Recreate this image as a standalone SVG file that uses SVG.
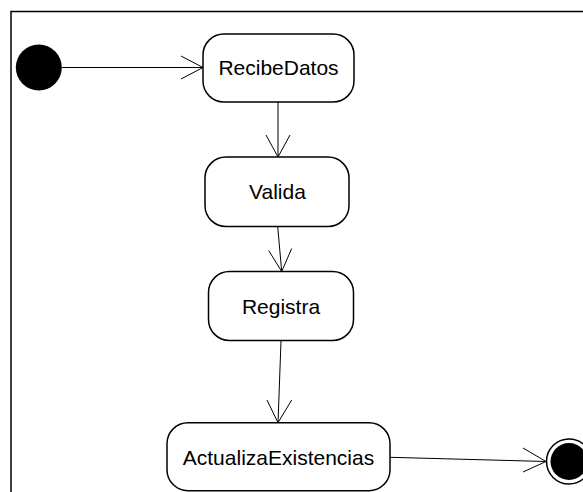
<svg xmlns="http://www.w3.org/2000/svg" width="583" height="492" viewBox="0 0 583 492">
<style>
.frame{fill:none;stroke:#000;stroke-width:1.5}
.node rect{fill:#fff;stroke:#000;stroke-width:1.5}
.node text{font-family:"Liberation Sans",Arial,sans-serif;font-size:21px;fill:#000;text-anchor:middle}
.conn line{stroke:#000;stroke-width:1;fill:none}
.conn polyline{stroke:#000;stroke-width:1;fill:none}
</style>
<rect width="583" height="492" fill="#fff"/>
<path class="frame" d="M11,492 V11.5 H583"/>
<g id="connectors" class="conn">
<line x1="62" y1="67.5" x2="203" y2="67.5"/>
<polyline points="181,56 203,67.5 181,79"/>
<line x1="278" y1="102" x2="278" y2="157"/>
<polyline points="266,135 278,157 290,135"/>
<line x1="277.7" y1="226.5" x2="281.7" y2="271.5"/>
<polyline points="268.7,250.5 281.7,271.5 291.7,248.5"/>
<line x1="281" y1="341" x2="278" y2="422.7"/>
<polyline points="267,400 278,422.7 291.7,400"/>
<line x1="390" y1="457.3" x2="546" y2="461.5"/>
<polyline points="523,448 546,461.5 523,472"/>
</g>
<g id="start">
<circle cx="38.8" cy="67.5" r="23" fill="#000"/>
</g>
<g id="RecibeDatos" class="node">
<rect x="203" y="34" width="151" height="68" rx="21" ry="21"/>
<text x="278.5" y="74.5">RecibeDatos</text>
</g>
<g id="Valida" class="node">
<rect x="205" y="157" width="144" height="69.5" rx="21" ry="21"/>
<text x="277.5" y="198.5">Valida</text>
</g>
<g id="Registra" class="node">
<rect x="208.5" y="271.5" width="145" height="69" rx="21" ry="21"/>
<text x="281" y="313.5">Registra</text>
</g>
<g id="ActualizaExistencias" class="node">
<rect x="167" y="422.7" width="223" height="68" rx="21" ry="21"/>
<text x="278.5" y="464.5">ActualizaExistencias</text>
</g>
<g id="end">
<circle cx="569" cy="461.5" r="22.5" fill="#fff" stroke="#000" stroke-width="1.5"/>
<circle cx="569" cy="461.5" r="18.5" fill="#000"/>
</g>
</svg>
